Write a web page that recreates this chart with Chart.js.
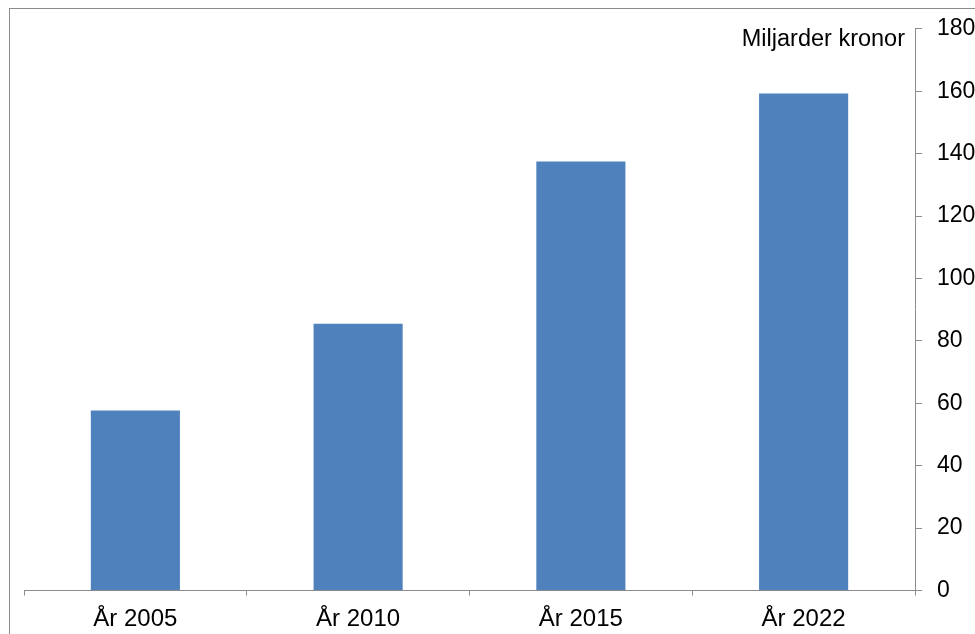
<!DOCTYPE html>
<html>
<head>
<meta charset="utf-8">
<script src="https://cdn.jsdelivr.net/npm/chart.js@4.4.1/dist/chart.umd.min.js"></script>
<style>
  html, body { margin: 0; padding: 0; background: #fff; overflow: hidden; }
  #wrap { position: relative; width: 975px; height: 634px; }
  #frame { position: absolute; left: 9px; top: 8px; width: 1000px; height: 700px; border: 1px solid #8c8c8c; box-sizing: border-box; }
  canvas { position: absolute; left: 0; top: 0; }
</style>
</head>
<body>
<div id="wrap">
  <div id="frame"></div>
  <canvas id="chart" width="975" height="634"></canvas>
</div>
<script>
// Data
var categories = ["År 2005", "År 2010", "År 2015", "År 2022"];
var values = [57.7, 85.5, 137.5, 159.3];
var yTicks = [0, 20, 40, 60, 80, 100, 120, 140, 160, 180];
var unitLabel = "Miljarder kronor";

var fontFamily = "'Liberation Sans', Arial, sans-serif";
var axisColor = "#8c8c8c";

// Enhetstext uppe till höger
var unitPlugin = {
    id: "unitLabel",
    afterDraw: function(chart) {
        var ctx = chart.ctx;
        ctx.save();
        ctx.font = "23.5px " + fontFamily;
        ctx.fillStyle = "#000";
        ctx.textAlign = "right";
        ctx.textBaseline = "alphabetic";
        ctx.fillText(unitLabel, chart.chartArea.right - 10, 46);
        ctx.restore();
    }
};

var ctx = document.getElementById("chart").getContext("2d");
var chart = new Chart(ctx, {
    type: "bar",
    data: {
        labels: categories,
        datasets: [{
            data: values,
            backgroundColor: "#4f81bd",
            borderWidth: 0,
            barPercentage: 0.4,
            categoryPercentage: 1
        }]
    },
    options: {
        responsive: false,
        animation: false,
        layout: { padding: { left: 24, top: 27.7, right: 0, bottom: 0 } },
        plugins: { legend: { display: false }, tooltip: { enabled: false } },
        scales: {
            x: {
                offset: true,
                grid: { offset: true, drawOnChartArea: false, tickLength: 5, color: axisColor },
                border: { color: axisColor },
                ticks: { color: "#000", font: { family: fontFamily, size: 24 }, padding: 9, maxRotation: 0 },
                afterFit: function(scale) { scale.height = 43.5; }
            },
            y: {
                position: "right",
                min: 0,
                max: 180,
                afterBuildTicks: function(scale) {
                    scale.ticks = yTicks.map(function(v) { return { value: v }; });
                },
                grid: { drawOnChartArea: false, tickLength: 7, color: axisColor },
                border: { color: axisColor },
                ticks: { color: "#000", font: { family: fontFamily, size: 23 }, padding: 15 },
                afterFit: function(scale) { scale.width = 60; }
            }
        }
    },
    plugins: [unitPlugin]
});
</script>
</body>
</html>
